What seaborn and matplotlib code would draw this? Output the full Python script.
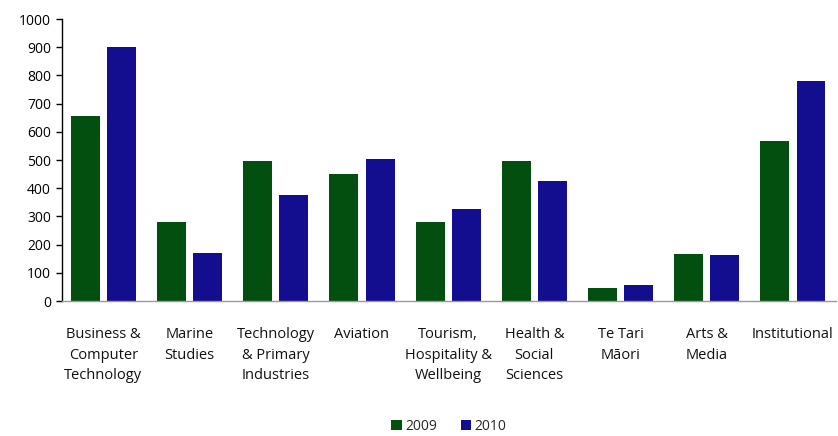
import matplotlib
matplotlib.use("Agg")
import matplotlib.pyplot as plt
import seaborn as sns
import pandas as pd

categories = [
    "Business &\nComputer\nTechnology",
    "Marine\nStudies",
    "Technology\n& Primary\nIndustries",
    "Aviation",
    "Tourism,\nHospitality &\nWellbeing",
    "Health &\nSocial\nSciences",
    "Te Tari\nMāori",
    "Arts &\nMedia",
    "Institutional",
]
values_2009 = [655, 279, 495, 449, 279, 498, 46, 166, 569]
values_2010 = [901, 170, 375, 505, 325, 424, 57, 162, 780]
years = ["2009", "2010"]
colors = ["#034F0F", "#130D8F"]

df = pd.DataFrame({
    "Department": categories * 2,
    "Year": [years[0]] * len(categories) + [years[1]] * len(categories),
    "Count": values_2009 + values_2010,
})

sns.set_theme(style="white")
plt.rcParams["font.family"] = ["Open Sans", "DejaVu Sans"]

fig = plt.figure(figsize=(8.38, 4.36), dpi=100)
ax = fig.add_axes([0.074, 0.3096, 0.9236, 0.6468])

sns.barplot(
    data=df, x="Department", y="Count", hue="Year",
    palette=colors, saturation=1, width=0.84, gap=0.2, ax=ax,
    edgecolor="none", linewidth=0, legend=True,
)

ax.set_xlim(-0.48, len(categories) - 0.5)
ax.set_ylim(0, 1000)
ax.set_yticks(range(0, 1001, 100))
ax.set_xlabel("")
ax.set_ylabel("")

for side in ["top", "right"]:
    ax.spines[side].set_visible(False)
ax.spines["left"].set_color("black")
ax.spines["left"].set_linewidth(1.0)
ax.spines["bottom"].set_color("#999999")
ax.spines["bottom"].set_linewidth(1.0)

ax.tick_params(axis="y", which="major", left=True, length=4, width=1,
               color="black", labelsize=10, labelcolor="black", pad=4)
ax.tick_params(axis="x", bottom=False, labelsize=10.5, labelcolor="#111111", pad=13)
for lbl in ax.get_xticklabels():
    lbl.set_linespacing(1.5)
    lbl.set_horizontalalignment("center")

ax.legend(
    loc="center", bbox_to_anchor=(0.5, -0.445), ncol=2, frameon=False,
    fontsize=10, handlelength=0.75, handleheight=0.75, handletextpad=0.25,
    columnspacing=1.7, borderpad=0.2,
)

fig.savefig("out.png", dpi=100, facecolor="white")
